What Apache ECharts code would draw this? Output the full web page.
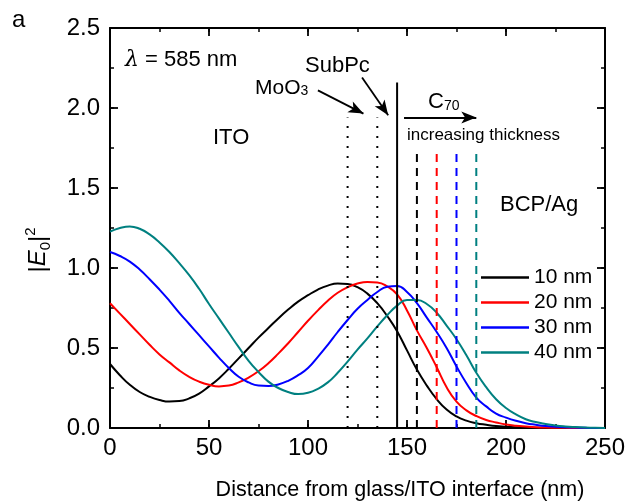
<!DOCTYPE html>
<html>
<head>
<meta charset="utf-8">
<title>|E0|^2 vs distance</title>
<script src="https://cdn.jsdelivr.net/npm/echarts@6/dist/echarts.min.js"></script>
<style>
	html,body{margin:0;padding:0;background:#fff;}
	#chart{width:629px;height:504px;}
</style>
</head>
<body>
<div id="chart"></div>
<script type="text/javascript">
	// distance grid (nm), 5 nm steps
	var xs = [0,5,10,15,20,25,30,35,40,45,50,55,60,65,70,75,80,85,90,95,100,105,110,115,120,125,130,135,140,145,150,155,160,165,170,175,180,185,190,195,200,205,210,215,220,225,230,235,240,245,250];
	// |E0|^2 for each C70 thickness
	var e10 = [0.40,0.33,0.27,0.225,0.195,0.175,0.165,0.168,0.185,0.215,0.26,0.31,0.37,0.435,0.50,0.565,0.625,0.685,0.74,0.79,0.83,0.865,0.89,0.903,0.90,0.88,0.84,0.78,0.70,0.605,0.485,0.365,0.265,0.18,0.115,0.072,0.046,0.03,0.02,0.012,0.008,0.005,0.003,0.002,0.001,0,0,0,0,0,0];
	var e20 = [0.78,0.715,0.65,0.585,0.52,0.46,0.41,0.36,0.32,0.29,0.27,0.26,0.265,0.285,0.315,0.355,0.405,0.465,0.53,0.60,0.67,0.735,0.795,0.845,0.88,0.903,0.913,0.91,0.885,0.835,0.735,0.61,0.50,0.38,0.255,0.165,0.11,0.075,0.05,0.035,0.022,0.014,0.009,0.005,0.003,0.002,0.001,0,0,0,0];
	var e30 = [1.10,1.075,1.04,0.99,0.93,0.865,0.795,0.72,0.65,0.58,0.51,0.44,0.375,0.32,0.285,0.265,0.262,0.272,0.295,0.33,0.375,0.445,0.52,0.60,0.675,0.745,0.80,0.85,0.883,0.888,0.85,0.78,0.69,0.60,0.50,0.385,0.28,0.19,0.135,0.09,0.065,0.045,0.03,0.02,0.012,0.008,0.005,0.003,0.001,0,0];
	var e40 = [1.227,1.25,1.26,1.245,1.21,1.16,1.10,1.03,0.955,0.87,0.775,0.685,0.595,0.505,0.42,0.35,0.29,0.25,0.225,0.212,0.22,0.245,0.285,0.345,0.415,0.49,0.56,0.635,0.705,0.765,0.80,0.80,0.775,0.72,0.64,0.555,0.455,0.345,0.255,0.18,0.125,0.085,0.055,0.037,0.025,0.016,0.01,0.006,0.003,0.001,0];
	var names = ['10 nm','20 nm','30 nm','40 nm'];
	var colors = ['#000000','#ff0000','#0000ff','#008080'];
	// layer boundaries (nm)
	var dotX = [120,135];          // MoO3, SubPc
	var solidX = [145];            // start of C70
	var dashX = [155,165,175,185]; // end of C70 per thickness

	var font = 'Liberation Sans, Arial, Helvetica, sans-serif';

	function zip(a,b){
		var out = [];
		for(var i=0;i<a.length;i++){ out.push([a[i],b[i]]); }
		return out;
	}
	function vline(x,top,color,type,width){
		return {
			type:'line', silent:true, symbol:'none', animation:false,
			data:[[x,0],[x,top]],
			lineStyle:{color:color,width:width,type:type}
		};
	}

	var myChart = echarts.init(document.getElementById('chart'));
	var axisLine = {show:true,onZero:false,lineStyle:{color:'#000',width:2}};
	var noLine = {show:false,onZero:false};
	var majorTick = {show:true,inside:true,length:8,lineStyle:{color:'#000',width:1.8}};
	var minorTick = {show:true,inside:true,length:4,lineStyle:{color:'#000',width:1.5}};
	var label = {color:'#000',fontSize:24,fontFamily:font};

	// major axis + minor-tick axis on each side
	function xAx(pos,step,tick,showLabel,line){
		return {type:'value',min:0,max:250,interval:step,position:pos,
			axisLine:line?axisLine:noLine,axisTick:tick,
			axisLabel:showLabel?Object.assign({margin:8},label):{show:false},
			splitLine:{show:false}};
	}
	function yAx(pos,step,tick,showLabel,line){
		return {type:'value',min:0,max:2.5,interval:step,position:pos,
			axisLine:line?axisLine:noLine,axisTick:tick,
			axisLabel:showLabel?Object.assign({margin:10,formatter:function(v){return v.toFixed(1);}},label):{show:false},
			splitLine:{show:false}};
	}

	var series = [];
	var curves = [e10,e20,e30,e40];
	for(var i=0;i<4;i++){
		series.push({
			name:names[i], type:'line', symbol:'none', smooth:true, animation:false,
			data:zip(xs,curves[i]),
			lineStyle:{color:colors[i],width:2},
			itemStyle:{color:colors[i]},
			z:3
		});
	}
	// arrows (annotations) in data coordinates
	series[0].markLine = {
		silent:true, animation:false,
		symbol:['none','arrow'], symbolSize:[9,15],
		label:{show:false},
		lineStyle:{color:'#000',width:1.8,type:'solid'},
		data:[
			[{coord:[105,2.11]},{coord:[128,1.965]}],
			[{coord:[127.3,2.19]},{coord:[140.5,1.955]}],
			[{coord:[148.5,1.94]},{coord:[185,1.94]}]
		]
	};
	dotX.forEach(function(x){ series.push(vline(x,1.94,'#000',[2,8],2)); });
	solidX.forEach(function(x){ series.push(vline(x,2.16,'#000','solid',2)); });
	dashX.forEach(function(x,i){ series.push(vline(x,1.72,colors[i],[8,6],2)); });

	function txt(x,y,text,size,extra){
		var st = {text:text,x:x,y:y,fontSize:size||22,fontFamily:font,fill:'#000',textVerticalAlign:'middle'};
		for(var k in extra){ st[k] = extra[k]; }
		return {type:'text',silent:true,style:st};
	}
	var sub = {fontSize:14,fontFamily:font,fill:'#000',verticalAlign:'bottom',lineHeight:20};

	var option = {
		backgroundColor:'#fff',
		animation:false,
		grid:{left:110,right:24,top:28,bottom:76},
		legend:{
			data:names, orient:'vertical', left:481, top:267,
			icon:'rect', itemWidth:48, itemHeight:2.5, itemGap:4, padding:0,
			textStyle:{color:'#000',fontSize:21,lineHeight:21,fontFamily:font},
			selectedMode:false
		},
		xAxis:[
			xAx('bottom',50,majorTick,true,true),
			xAx('top',50,majorTick,false,true),
			xAx('bottom',25,minorTick,false,false),
			xAx('top',25,minorTick,false,false)
		],
		yAxis:[
			yAx('left',0.5,majorTick,true,true),
			yAx('right',0.5,majorTick,false,true),
			yAx('left',0.25,minorTick,false,false),
			yAx('right',0.25,minorTick,false,false)
		],
		graphic:[
			txt(12,20,'a',24),
			txt(125,60,'{l|λ} = 585 nm',22,{rich:{l:{fontStyle:'italic',fontSize:22,fontFamily:'DejaVu Serif, serif',fill:'#000'}}}),
			txt(213,138,'ITO',22),
			txt(255,88,'MoO{s|3}',21,{rich:{s:sub}}),
			txt(305,66,'SubPc',22),
			txt(428,102,'C{s|70}',22,{rich:{s:sub}}),
			txt(407,135,'increasing thickness',17),
			txt(500,205,'BCP/Ag',22),
			txt(400,490,'Distance from glass/ITO interface (nm)',21.5,{textAlign:'center'}),
			{
				type:'text', silent:true, x:38, y:250, rotation:Math.PI/2,
				style:{
					text:'{n||}{e|E}{s|0}{n||}{p|2}',
					textAlign:'center', textVerticalAlign:'middle',
					fontFamily:font, fill:'#000',
					rich:{
						n:{fontSize:24,fontFamily:font,fill:'#000',lineHeight:30,verticalAlign:'middle'},
						e:{fontSize:24,fontStyle:'italic',fontFamily:font,fill:'#000',lineHeight:30,verticalAlign:'middle'},
						s:{fontSize:15,fontFamily:font,fill:'#000',lineHeight:14,verticalAlign:'bottom'},
						p:{fontSize:15,fontFamily:font,fill:'#000',lineHeight:14,verticalAlign:'top'}
					}
				}
			}
		],
		series:series
	};
	myChart.setOption(option);
</script>
</body>
</html>
